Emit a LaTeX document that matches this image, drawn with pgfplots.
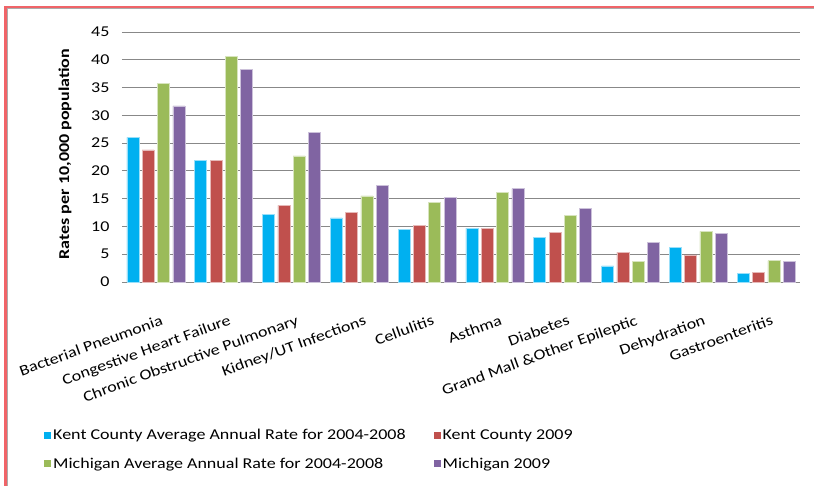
\documentclass[border=0pt]{standalone}
\usepackage{fontspec}
\setmainfont{Carlito}[FakeStretch=1.2]
\usepackage{pgfplots}
\pgfplotsset{compat=1.18}
\definecolor{cBlue}{HTML}{00B0F0}
\definecolor{cRed}{HTML}{C0504D}
\definecolor{cGreen}{HTML}{9BBB59}
\definecolor{cPurple}{HTML}{8064A2}
\definecolor{frameRed}{HTML}{F06468}
\definecolor{gridGray}{HTML}{888888}
\begin{document}
\begin{tikzpicture}
\path[use as bounding box] (-122pt,-203pt) rectangle (692pt,282pt);
\draw[frameRed, line width=2.6pt] (-116.5pt,-210pt) -- (-116.5pt,275pt) -- (700pt,275pt);
\draw[gridGray!70, line width=0.6pt] (-114.5pt,-210pt) -- (-114.5pt,273.3pt) -- (700pt,273.3pt);
\begin{axis}[
  at={(0pt,0pt)}, anchor=south west,
  scale only axis, width=678pt, height=250pt,
  font=\fontsize{15pt}{18pt}\selectfont,
  ybar=3.3pt, bar width=12pt,
  xmin=-0.5, xmax=9.5, ymin=0, ymax=45,
  ytick={0,5,...,45},
  xtick={0,...,9},
  xticklabels={Bacterial Pneumonia,Congestive Heart Failure,Chronic Obstructive Pulmonary,Kidney/UT Infections,Cellulitis,Asthma,Diabetes,Grand Mall \&Other Epileptic,Dehydration,Gastroenteritis},
  xticklabel style={rotate=20, anchor=north east, yshift=-32pt, xshift=-7pt, inner sep=0pt},
  yticklabel style={xshift=-9pt},
  /pgf/number format/assume math mode=true,
  major tick length=0pt,
  axis line style={draw=none},
  ymajorgrids, grid style={gridGray, line width=0.8pt},
  ylabel={\bfseries Rates per 10,000 population},
  every axis y label/.style={at={(axis description cs:-0.084,0.512)}, rotate=90, anchor=center},
  legend columns=2,
  legend cell align=left,
  legend style={at={(axis description cs:-0.115,-0.58)}, anchor=north west, draw=none, fill=none,
    font=\fontsize{15pt}{18pt}\selectfont, row sep=12.5pt, inner sep=0pt,
    /tikz/every even column/.append style={column sep=26pt}},
  legend image code/.code={\fill[#1, draw=none] (0pt,-3.5pt) rectangle (7pt,3.5pt);},
]
\addplot[fill=cBlue, draw=cBlue!40!white, line width=0.5pt] coordinates {(0,26.05) (1,21.9) (2,12.15) (3,11.55) (4,9.5) (5,9.7) (6,8.0) (7,2.9) (8,6.25) (9,1.56)};
\addplot[fill=cRed, draw=cRed!40!white, line width=0.5pt] coordinates {(0,23.8) (1,21.9) (2,13.8) (3,12.5) (4,10.2) (5,9.7) (6,8.9) (7,5.35) (8,4.9) (9,1.74)};
\addplot[fill=cGreen, draw=cGreen!40!white, line width=0.5pt] coordinates {(0,35.7) (1,40.55) (2,22.7) (3,15.5) (4,14.4) (5,16.1) (6,11.96) (7,3.67) (8,9.1) (9,3.85)};
\addplot[fill=cPurple, draw=cPurple!40!white, line width=0.5pt] coordinates {(0,31.7) (1,38.3) (2,26.95) (3,17.45) (4,15.3) (5,16.8) (6,13.3) (7,7.2) (8,8.7) (9,3.67)};
\legend{Kent County Average Annual Rate for 2004-2008,Kent County 2009,Michigan Average Annual Rate for 2004-2008,Michigan 2009}
\end{axis}
\end{tikzpicture}
\end{document}
